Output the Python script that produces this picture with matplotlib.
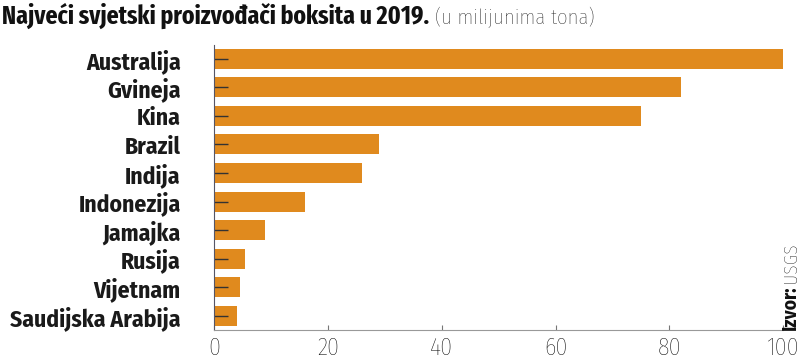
import matplotlib
matplotlib.use('Agg')
import matplotlib.pyplot as plt

countries = ['Australija', 'Gvineja', 'Kina', 'Brazil', 'Indija', 'Indonezija',
             'Jamajka', 'Rusija', 'Vijetnam', 'Saudijska Arabija']
production = [100, 82, 75, 29, 26, 16, 9, 5.5, 4.5, 4]
xticks = [0, 20, 40, 60, 80, 100]

bar_color = '#E08A1E'
cond = ['Fira Sans Condensed', 'DejaVu Sans']
xcond = ['Fira Sans Extra Condensed', 'Fira Sans Condensed', 'DejaVu Sans']

fig = plt.figure(figsize=(8, 3.56), dpi=100)
ax = fig.add_axes([0.2675, 0.073, 0.7115, 0.802])

ypos = list(range(len(countries)))
ax.barh(ypos, production, height=0.7, color=bar_color, zorder=1)
ax.set_ylim(len(countries) - 0.5, -0.5)
ax.set_xlim(0, 100)

ax.set_yticks(ypos)
ax.set_yticklabels(countries, family=cond, fontweight='bold', fontsize=17, color='#1a1a1a')
ax.tick_params(axis='y', direction='in', length=10, width=1, color='#333333', pad=24)

ax.set_xticks(xticks)
ax.set_xticklabels([str(t) for t in xticks], family=cond, fontweight='light',
                   fontsize=17.5, color='#000000')
ax.tick_params(axis='x', direction='in', length=3.6, width=0.8, color='#777777', pad=5)

for side in ['top', 'right']:
    ax.spines[side].set_visible(False)
ax.spines['left'].set_color('#555566')
ax.spines['bottom'].set_color('#999999')

title = fig.text(0.003, 0.9326, 'Najveći svjetski proizvođači boksita u 2019.', family=xcond,
                 fontweight='bold', fontsize=18.6, va='baseline', ha='left', color='#111111')
fig.canvas.draw()
renderer = fig.canvas.get_renderer()
tb = title.get_window_extent(renderer)
fig.text((tb.x1 + 5) / 800, 0.9326, '(u milijunima tona)', family=cond, fontweight='light',
         fontsize=15, va='baseline', ha='left', color='#111111')

src = fig.text(0.988, 0.073, 'Izvor:', family=cond, fontweight='bold', fontsize=14,
               rotation=90, ha='center', va='bottom', color='#111111')
sb = src.get_window_extent(renderer)
fig.text(0.988, (sb.y1 + 3) / 356, 'USGS', family=cond, fontweight='light', fontsize=14,
         rotation=90, ha='center', va='bottom', color='#111111')

fig.savefig('out.png', dpi=100)
